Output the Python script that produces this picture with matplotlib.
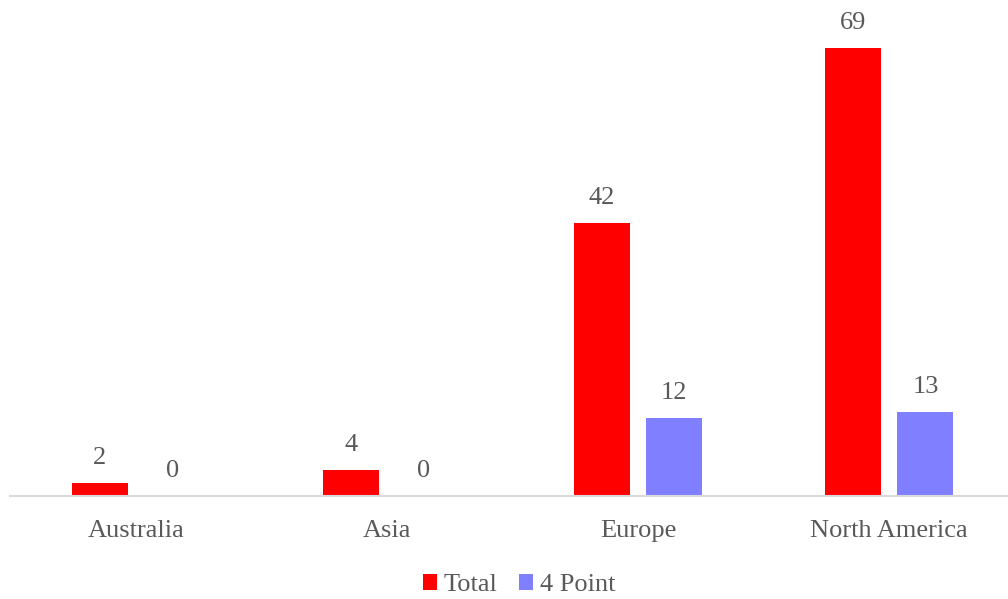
import matplotlib
matplotlib.use("Agg")
import matplotlib.pyplot as plt
import numpy as np

categories = ["Australia", "Asia", "Europe", "North America"]
total = [2, 4, 42, 69]
four_point = [0, 0, 12, 13]
series_names = ["Total", "4 Point"]
colors = ["#FF0000", "#7F7FFF"]

plt.rcParams['font.family'] = ['Liberation Serif', 'DejaVu Serif']
text_color = "#595959"
fs = 19

fig = plt.figure(figsize=(10.08, 5.99), dpi=100)
W, H = 1008, 599
ax = fig.add_axes([10.5 / W, 103 / H, 1004 / W, 496 / H])

x = np.arange(len(categories))
bw = 0.223
off = 0.145
b1 = ax.bar(x - off, total, bw, color=colors[0], label=series_names[0])
b2 = ax.bar(x + off, four_point, bw, color=colors[1], label=series_names[1])

for bars in (b1, b2):
    for r in bars:
        h = r.get_height()
        ax.annotate(f"{h:g}", (r.get_x() + r.get_width() / 2, h),
                    xytext=(0, 10), textcoords="offset points",
                    ha="center", va="bottom", fontsize=fs, color=text_color)

ax.set_xlim(-0.5, 3.5)
ax.set_ylim(0, 76.4)
for s in ["top", "right", "left"]:
    ax.spines[s].set_visible(False)
ax.spines["bottom"].set_color("#D9D9D9")
ax.spines["bottom"].set_linewidth(1.5)
ax.set_yticks([])
ax.set_xticks(x)
ax.set_xticklabels(categories, fontsize=fs, color=text_color)
ax.tick_params(axis="x", length=0, pad=17.5)

leg = fig.legend(loc="center", bbox_to_anchor=(519 / W, 1 - 585 / H), ncol=2,
                 frameon=False, fontsize=fs, handlelength=0.55, handleheight=0.55,
                 handletextpad=0.25, columnspacing=0.8)
for t in leg.get_texts():
    t.set_color(text_color)

fig.savefig("out.png", dpi=100)
